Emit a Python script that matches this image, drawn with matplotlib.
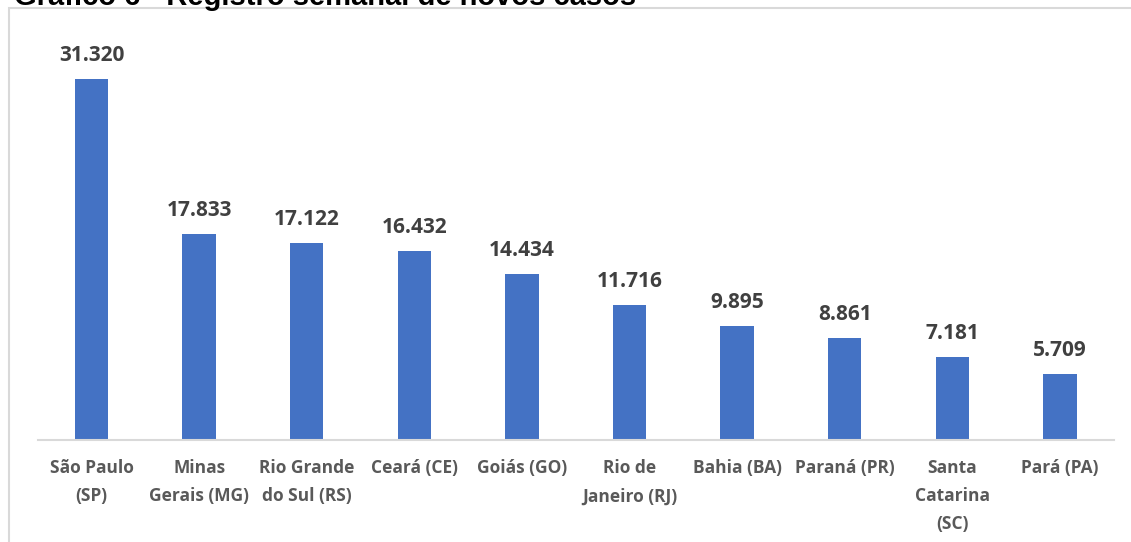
import matplotlib.pyplot as plt
from matplotlib.patches import Rectangle

estados = ["São Paulo\n(SP)", "Minas\nGerais (MG)", "Rio Grande\ndo Sul (RS)",
           "Ceará (CE)", "Goiás (GO)", "Rio de\nJaneiro (RJ)", "Bahia (BA)",
           "Paraná (PR)", "Santa\nCatarina\n(SC)", "Pará (PA)"]
casos = [31320, 17833, 17122, 16432, 14434, 11716, 9895, 8861, 7181, 5709]
rotulos = ["31.320", "17.833", "17.122", "16.432", "14.434",
           "11.716", "9.895", "8.861", "7.181", "5.709"]

W, H = 1131, 542
fig = plt.figure(figsize=(W / 100, H / 100), dpi=100)

# light frame around the chart (right/bottom edges fall outside the image)
fig.patches.append(Rectangle((9 / W, -0.1), 1.2, (H - 8) / H + 0.1,
                             transform=fig.transFigure, fill=False,
                             edgecolor="#D9D9D9", linewidth=1.5))

# title, clipped at the top of the picture
fig.text(14 / W, 1 - 5 / H, "Gráfico 6 - Registro semanal de novos casos",
         fontsize=21, fontweight="bold", family="Liberation Sans",
         va="baseline", ha="left", color="black")

ax = fig.add_axes([37.7 / W, (H - 440) / H, (1113.8 - 37.7) / W, 400 / H])
x = range(len(casos))
ax.bar(x, casos, width=0.31, color="#4472C4")
ax.set_xlim(-0.5, 9.5)
ax.set_ylim(0, 34700)

for i, v in enumerate(casos):
    ax.annotate(rotulos[i], (i, v), xytext=(0, 13), textcoords="offset points",
                ha="center", va="baseline", fontsize=15, fontweight="bold",
                family="Open Sans", color="#404040")

ax.set_xticks(list(x))
ax.set_xticklabels(estados, fontsize=12.5, fontweight="bold", family="Open Sans",
                   color="#595959", linespacing=1.7, va="top")
ax.tick_params(axis="x", length=0, pad=14)
ax.set_yticks([])
for s in ["top", "right", "left"]:
    ax.spines[s].set_visible(False)
ax.spines["bottom"].set_color("#D9D9D9")
ax.spines["bottom"].set_linewidth(1.5)
ax.patch.set_alpha(0)

fig.savefig("out.png", dpi=100)
